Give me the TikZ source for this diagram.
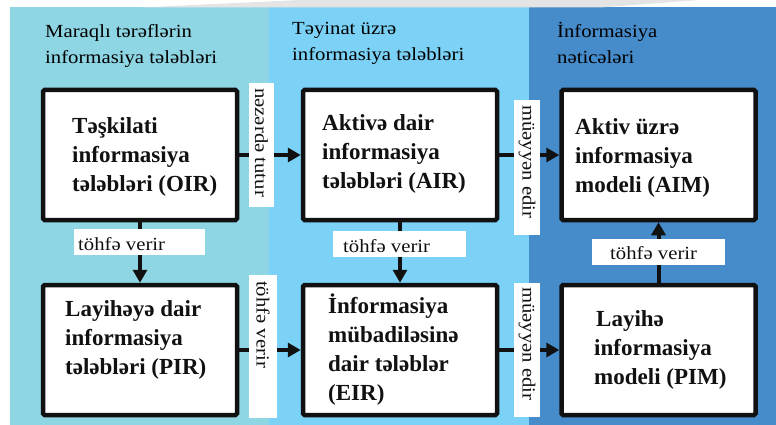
\documentclass[tikz,border=0pt]{standalone}
\usepackage{fontspec}
\setmainfont{Liberation Serif}
\newfontfamily\widefont{Liberation Serif}[FakeStretch=1.12]
\usetikzlibrary{arrows.meta}
\definecolor{panelA}{HTML}{8FD6E4}
\definecolor{panelB}{HTML}{7BD2F6}
\definecolor{panelC}{HTML}{468BCA}
\definecolor{ink}{HTML}{111111}
\definecolor{haze}{HTML}{E4E4E4}
\begin{document}
\begin{tikzpicture}[x=1pt,y=-1pt,
  reqbox/.style={draw=ink, fill=white, line width=4.5pt, rounded corners=1.5pt,
    minimum width=194pt, minimum height=130pt, inner sep=0pt},
  boxtext/.style={anchor=base west, align=left, text=ink, inner sep=0pt,
    font=\fontsize{23}{29}\selectfont\bfseries},
  hdr/.style={anchor=base west, align=left, text=black, inner sep=0pt,
    font=\widefont\fontsize{18.5}{26}\selectfont},
  flow/.style={draw=ink, line width=4pt, -{Triangle[length=13pt,width=14pt]}},
  tag/.style={fill=white, draw=none, inner sep=0pt},
  tagtext/.style={text=ink, inner sep=0pt, font=\widefont\fontsize{18.5}{22}\selectfont}
]
\useasboundingbox (0,0) rectangle (776,425);

% background columns
\fill[panelA] (10,7.5) rectangle (269,425);
\fill[panelB] (269,7.5) rectangle (529,425);
\fill[panelC] (529,7.5) rectangle (776,425);
% faint grey stroke along the top margin
\fill[haze] (140,7.5) -- (300,0) -- (700,0) -- (600,7.5) -- cycle;

% column headings (placed by the baseline of their last line)
\node[hdr] (h1) at (45,64) {Maraqlı tərəflərin\\informasiya tələbləri};
\node[hdr] (h2) at (292,61) {Təyinat üzrə\\informasiya tələbləri};
\node[hdr] (h3) at (557,64) {İnformasiya\\nəticələri};

% requirement boxes
\node[reqbox] (oir) at (140,155) {};
\node[reqbox] (air) at (400,155) {};
\node[reqbox] (aim) at (658.5,155) {};
\node[reqbox] (pir) at (140,350) {};
\node[reqbox] (eir) at (400,350) {};
\node[reqbox] (pim) at (658.5,350) {};

% connectors
\draw[flow] (oir.east) -- (air.west);
\draw[flow] (air.east) -- (aim.west);
\draw[flow] (pir.east) -- (eir.west);
\draw[flow] (eir.east) -- (pim.west);
\draw[flow] (oir.south) -- (pir.north);
\draw[flow] (air.south) -- (eir.north);
\draw[flow] (pim.north) -- (aim.south);

% connector labels, vertical
\node[tag, minimum width=25pt, minimum height=124pt] (t1) at (261.5,145) {};
\node[tagtext, rotate=-90, anchor=west] (t1x) at (261.5,88) {nəzərdə tutur};
\node[tag, minimum width=28pt, minimum height=143pt] (t2) at (263,346.5) {};
\node[tagtext, rotate=-90, anchor=west] (t2x) at (263,281) {töhfə verir};
\node[tag, minimum width=26pt, minimum height=135pt] (t3) at (527,167.5) {};
\node[tagtext, rotate=-90, anchor=west] (t3x) at (527,105) {müəyyən edir};
\node[tag, minimum width=26pt, minimum height=134pt] (t4) at (527,350) {};
\node[tagtext, rotate=-90, anchor=west] (t4x) at (527,287) {müəyyən edir};

% connector labels, horizontal
\node[tag, minimum width=131pt, minimum height=26pt] (t5) at (139.5,242) {};
\node[tagtext, anchor=base west] (t5x) at (78,250) {töhfə verir};
\node[tag, minimum width=133pt, minimum height=26pt] (t6) at (399.5,244) {};
\node[tagtext, anchor=base west] (t6x) at (343,252) {töhfə verir};
\node[tag, minimum width=133pt, minimum height=26pt] (t7) at (658.5,252) {};
\node[tagtext, anchor=base west] (t7x) at (610,259) {töhfə verir};

% box texts (placed by the baseline of their last line)
\node[boxtext] (oirx) at (72,191) {Təşkilati\\informasiya\\tələbləri (OIR)};
\node[boxtext] (airx) at (322,188) {Aktivə dair\\informasiya\\tələbləri (AIR)};
\node[boxtext] (aimx) at (575,192) {Aktiv üzrə\\informasiya\\modeli (AIM)};
\node[boxtext] (pirx) at (65,374) {Layihəyə dair\\informasiya\\tələbləri (PIR)};
\node[boxtext] (eirx) at (328,400) {İnformasiya\\mübadiləsinə\\dair tələblər\\(EIR)};
\node[boxtext] (pimx) at (594,384) {\hspace*{2pt}Layihə\\informasiya\\modeli (PIM)};
\end{tikzpicture}
\end{document}
